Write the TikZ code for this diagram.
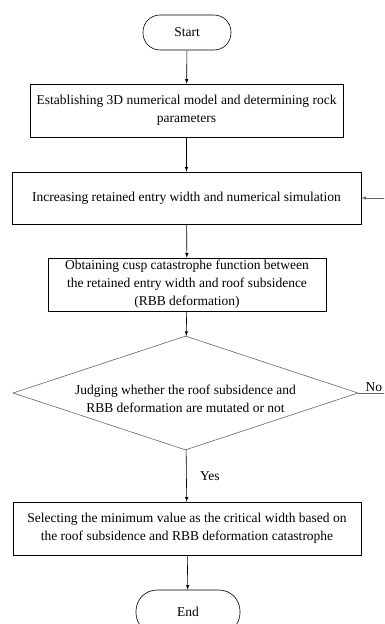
\documentclass[tikz,border=0pt]{standalone}
\usepackage{fontspec}
\setmainfont{Liberation Serif}
\usetikzlibrary{arrows,shapes.geometric,positioning}
\tikzset{
  flowtext/.style = {font = \fontsize{13.5}{18}\selectfont, align = center},
  process/.style = {flowtext, draw, rectangle, inner sep = 0pt, line width = .6pt},
  terminal/.style = {flowtext, draw, rectangle, inner sep = 0pt, line width = .6pt},
  decision/.style = {draw = black!60, diamond, inner sep = 0pt, line width = .6pt},
  flow/.style = {-latex, line width = .6pt},
}
\begin{document}
\begin{tikzpicture}[x = 1pt, y = -1pt]
\clip (0,0) rectangle (384,624);
\node[terminal, rounded corners = 17pt, minimum width = 88pt, minimum height = 35pt] (start) at (187,32.5) {Start};
\node[process, minimum width = 313pt, minimum height = 53pt] (model) at (186.5,110.5) {Establishing 3D numerical model and determining rock\\parameters};
\node[process, minimum width = 349pt, minimum height = 52pt] (increase) at (186.5,198) {Increasing retained entry width and numerical simulation};
\node[process, minimum width = 278pt, minimum height = 53pt] (cusp) at (187,284.5) {Obtaining cusp catastrophe function between\\the retained entry width and roof subsidence\\(RBB deformation)};
\node[decision, minimum width = 345pt, minimum height = 114pt] (judge) at (185.5,393) {};
\node[flowtext] (judgetext) at (185.5,399) {Judging whether the roof subsidence and\\RBB deformation are mutated or not};
\node[process, minimum width = 348pt, minimum height = 53pt] (select) at (187,528.5) {Selecting the minimum value as the critical width based on\\the roof subsidence and RBB deformation catastrophe};
\node[terminal, rounded corners = 21pt, minimum width = 104pt, minimum height = 44pt] (end) at (188,612) {End};
% main line
\draw[flow] (start) -- (model);
\draw[flow] (model) -- (increase);
\draw[flow] (increase) -- (cusp);
\draw[flow] (cusp) -- (judge);
\draw[flow] (judge) -- node[midway, right = 10pt, flowtext] (yes) {Yes} (select);
\draw[flow] (select) -- (end);
% loop back
\draw[flow, draw = black!60] (judge.east) -- ++(40,0) |- (increase.east);
\node[flowtext, anchor = south west, inner sep = 1pt] (no) at ([xshift = 6pt]judge.east) {No};
\end{tikzpicture}
\end{document}
